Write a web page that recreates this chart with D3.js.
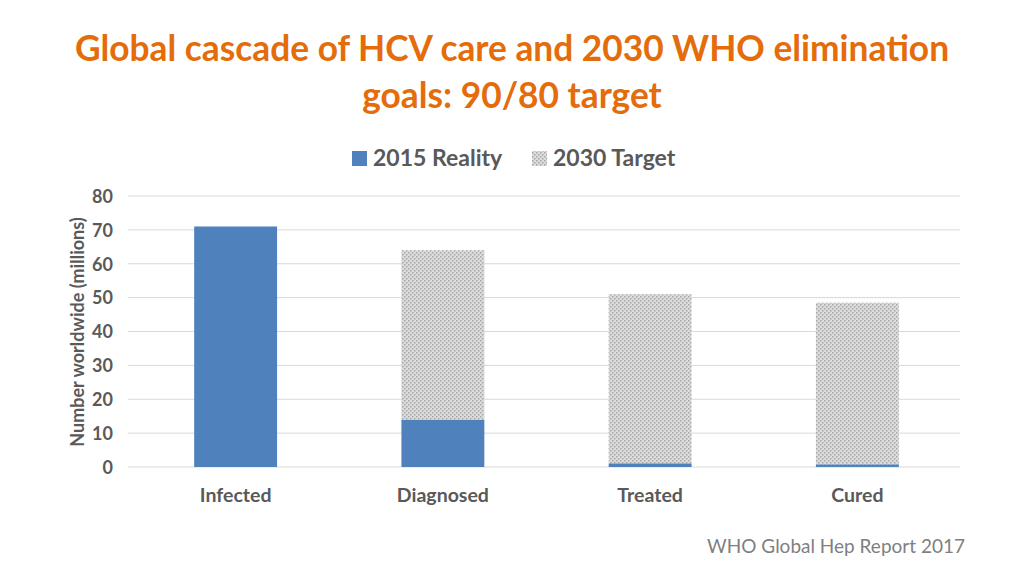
<!DOCTYPE html>
<html><head><meta charset="utf-8">
<script src="https://cdn.jsdelivr.net/npm/d3@7"></script>
<style>body{margin:0;background:#fff}svg{display:block}</style>
</head><body>
<svg id="c" width="1024" height="576"></svg>
<script>
const categories = ["Infected", "Diagnosed", "Treated", "Cured"];
const reality2015 = [71, 14, 1.1, 0.8];
const target2030 = [0, 50, 49.9, 47.7];
const yTicks = [0, 10, 20, 30, 40, 50, 60, 70, 80];
const seriesNames = ["2015 Reality", "2030 Target"];

const svg = d3.select("#c");
const font = "Lato, 'Open Sans', sans-serif";
const defs = svg.append("defs");
const pat = defs.append("pattern").attr("id","dots").attr("patternUnits","userSpaceOnUse").attr("width",4).attr("height",4);
pat.append("rect").attr("width",4).attr("height",4).attr("fill","#dcdcdc");
pat.append("rect").attr("x",0).attr("y",0).attr("width",1.5).attr("height",1.5).attr("fill","#a6a6a6");
pat.append("rect").attr("x",2).attr("y",2).attr("width",1.5).attr("height",1.5).attr("fill","#a6a6a6");

// Title
svg.append("text").attr("x",512).attr("y",61).attr("text-anchor","middle")
  .attr("font-family",font).attr("font-weight","bold").attr("font-size",35.3).attr("fill","#E46C0A")
  .text("Global cascade of HCV care and 2030 WHO elimination");
svg.append("text").attr("x",512).attr("y",108).attr("text-anchor","middle")
  .attr("font-family",font).attr("font-weight","bold").attr("font-size",35.3).attr("fill","#E46C0A")
  .text("goals: 90/80 target");

const x = d3.scaleBand().domain(categories).range([132, 961]).paddingInner(0.6).paddingOuter(0.3);
const y = d3.scaleLinear().domain([0, 80]).range([467, 196]);

// gridlines
svg.append("g").selectAll("line").data(yTicks).join("line")
  .attr("x1",128).attr("x2",960).attr("y1",d=>y(d)).attr("y2",d=>y(d))
  .attr("stroke","#d9d9d9").attr("stroke-width",1);

// y axis
const yAxis = d3.axisLeft(y).tickValues(yTicks).tickSize(0).tickPadding(0);
const ga = svg.append("g").attr("transform","translate(113,0)").call(yAxis);
ga.select(".domain").remove();
ga.selectAll("text").attr("font-family",font).attr("font-weight","bold").attr("font-size",18).attr("fill","#595959").attr("dy","0.35em");

// x axis labels
const xAxis = d3.axisBottom(x).tickSize(0).tickPadding(0);
const gx = svg.append("g").attr("transform","translate(0,488)").call(xAxis);
gx.select(".domain").remove();
gx.selectAll("text").attr("font-family",font).attr("font-weight","bold").attr("font-size",19.5).attr("fill","#595959");

// stacked bars
const rows = categories.map((c,i)=>({cat:c, r:reality2015[i], t:target2030[i]}));
const stack = d3.stack().keys(["r","t"])(rows);
const fills = ["#4F81BD","url(#dots)"];
svg.append("g").selectAll("g").data(stack).join("g")
  .attr("fill",(d,i)=>fills[i])
  .selectAll("rect").data(d=>d).join("rect")
  .attr("x",d=>x(d.data.cat)).attr("width",x.bandwidth())
  .attr("y",d=>y(d[1])).attr("height",d=>y(d[0])-y(d[1]));

// y title
svg.append("text").attr("transform","translate(84,332) rotate(-90)").attr("text-anchor","middle")
  .attr("font-family",font).attr("font-weight","bold").attr("font-size",18).attr("fill","#595959")
  .text("Number worldwide (millions)");

// legend
const lg = svg.append("g");
const lx = [352, 532];
seriesNames.forEach((n,i)=>{
  lg.append("rect").attr("x",lx[i]).attr("y",151).attr("width",15).attr("height",15).attr("fill",fills[i]);
  lg.append("text").attr("x",lx[i]+21).attr("y",166).attr("font-family",font).attr("font-weight","bold")
    .attr("font-size",23).attr("fill","#595959").text(n);
});

// source
svg.append("text").attr("x",965).attr("y",553).attr("text-anchor","end")
  .attr("font-family",font).attr("font-size",19).attr("fill","#7f7f7f").text("WHO Global Hep Report 2017");
</script>
</body></html>
